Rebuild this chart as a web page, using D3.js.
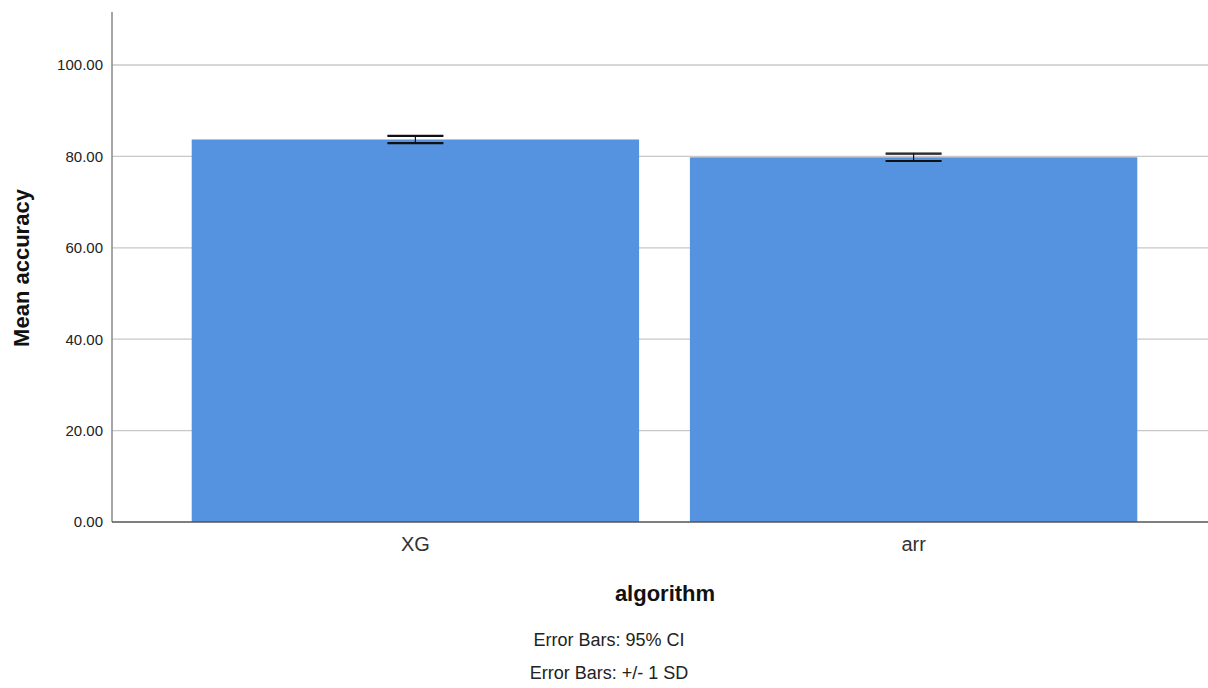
<!DOCTYPE html>
<html lang="en">
<head>
<meta charset="UTF-8">
<script src="https://cdnjs.cloudflare.com/ajax/libs/d3/7.8.5/d3.min.js"></script>
<title>Mean accuracy by algorithm</title>
<style>
  body { margin: 0; background: #fff; }
  text { font-family: "Liberation Sans", Arial, sans-serif; }
</style>
</head>
<body>
<script>
// data
var categories = ['XG', 'arr'];
var meanAccuracy = [83.7, 79.8];
var ci95 = [0.7, 0.7];     // half width of 95% CI
var sd1 = [0.9, 0.9];      // +/- 1 SD
var yTicks = [0, 20, 40, 60, 80, 100];
var notes = ['Error Bars: 95% CI', 'Error Bars: +/- 1 SD'];

var width = 1208, height = 688;
var mLeft = 112, mRight = 1208, mTop = 12, mBottom = 522;

var svg = d3.select('body').append('svg')
    .attr('width', width)
    .attr('height', height);

var x = d3.scaleBand()
    .domain(categories)
    .range([mLeft, 1217])
    .paddingInner(0.102)
    .paddingOuter(0.16);

var y = d3.scaleLinear()
    .domain([0, 111.6])
    .range([mBottom, mTop]);

// grid lines
svg.append('g')
    .selectAll('line')
    .data(yTicks.slice(1))
    .enter().append('line')
    .attr('x1', mLeft).attr('x2', mRight)
    .attr('y1', function (d) { return y(d); })
    .attr('y2', function (d) { return y(d); })
    .attr('stroke', '#c8c8c8')
    .attr('stroke-width', 1.3);

// bars
svg.append('g')
    .selectAll('rect')
    .data(categories)
    .enter().append('rect')
    .attr('x', function (d) { return x(d); })
    .attr('width', x.bandwidth())
    .attr('y', function (d, i) { return y(meanAccuracy[i]); })
    .attr('height', function (d, i) { return mBottom - y(meanAccuracy[i]); })
    .attr('fill', '#5592e0');

// error bars (95% CI and 1 SD drawn on top of each other)
[ci95, sd1].forEach(function (err) {
    var g = svg.append('g');
    categories.forEach(function (c, i) {
        var cx = x(c) + x.bandwidth() / 2;
        var hi = y(meanAccuracy[i] + err[i]);
        var lo = y(meanAccuracy[i] - err[i]);
        g.append('line')
            .attr('x1', cx).attr('x2', cx)
            .attr('y1', hi).attr('y2', lo)
            .attr('stroke', '#111').attr('stroke-width', 1);
        [hi, lo].forEach(function (yy) {
            g.append('line')
                .attr('x1', cx - 28).attr('x2', cx + 28)
                .attr('y1', yy).attr('y2', yy)
                .attr('stroke', '#111').attr('stroke-width', 1.2);
        });
    });
});

// y axis
var yAxis = svg.append('g')
    .attr('transform', 'translate(' + mLeft + ',0)')
    .call(d3.axisLeft(y).tickValues(yTicks).tickSize(0).tickPadding(9)
        .tickFormat(d3.format('.2f')));
yAxis.select('.domain').remove();
yAxis.selectAll('text')
    .attr('font-size', 15)
    .attr('fill', '#222');
svg.append('line')
    .attr('x1', mLeft).attr('x2', mLeft)
    .attr('y1', mTop).attr('y2', mBottom)
    .attr('stroke', '#888').attr('stroke-width', 1.5);

// x axis
var xAxis = svg.append('g')
    .attr('transform', 'translate(0,' + mBottom + ')')
    .call(d3.axisBottom(x).tickSize(0).tickPadding(15));
xAxis.select('.domain').remove();
xAxis.selectAll('text')
    .attr('font-size', 20)
    .attr('fill', '#333');
svg.append('line')
    .attr('x1', mLeft).attr('x2', mRight)
    .attr('y1', mBottom).attr('y2', mBottom)
    .attr('stroke', '#555').attr('stroke-width', 1.5);

// axis titles
svg.append('text')
    .attr('transform', 'translate(29,268) rotate(-90)')
    .attr('text-anchor', 'middle')
    .attr('font-size', 22)
    .attr('font-weight', 'bold')
    .attr('fill', '#111')
    .text('Mean accuracy');

svg.append('text')
    .attr('x', 665).attr('y', 601)
    .attr('text-anchor', 'middle')
    .attr('font-size', 22)
    .attr('font-weight', 'bold')
    .attr('fill', '#111')
    .text('algorithm');

svg.append('g')
    .selectAll('text')
    .data(notes)
    .enter().append('text')
    .attr('x', 609)
    .attr('y', function (d, i) { return 646 + i * 33; })
    .attr('text-anchor', 'middle')
    .attr('font-size', 18)
    .attr('fill', '#222')
    .text(function (d) { return d; });
</script>
</body>
</html>
